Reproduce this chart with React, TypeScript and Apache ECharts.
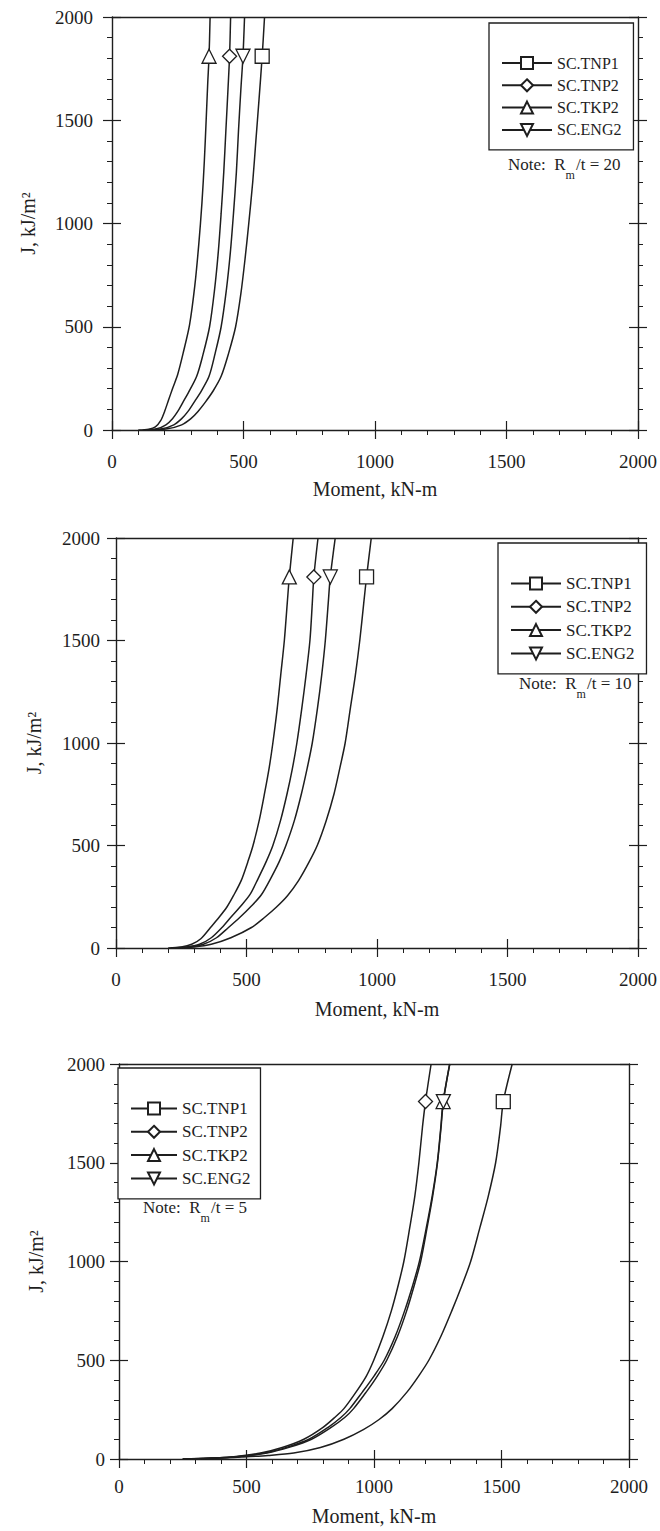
import React, { useEffect, useRef } from "react";
import * as echarts from "echarts";

const FONT = "'Liberation Serif', 'Times New Roman', serif";
const INK = "#1e1e1e";

const NAMES = ["SC.TNP1", "SC.TNP2", "SC.TKP2", "SC.ENG2"];
const SYMBOLS = ["rect", "diamond", "triangle", "triangle"];
const ROTATES = [0, 0, 0, 180];

const X_MIN = 0;
const X_MAX = 2000;
const X_STEP = 500;
const Y_MIN = 0;
const Y_MAX = 2000;
const Y_STEP = 500;
const MARKER_Y = 1810;

// Chart 1: Rm/t = 20   [moment kN-m, J kJ/m2]
const c1_TNP1 = [[140, 0], [210, 6], [265, 25], [300, 55], [327, 90], [355, 135], [385, 190], [415, 260], [443, 370], [470, 500], [490, 660], [506, 830], [520, 1000], [535, 1200], [547, 1400], [559, 1600], [571, 1810], [580, 2000]];
const c1_TNP2 = [[120, 0], [170, 6], [205, 25], [230, 55], [250, 90], [270, 135], [290, 180], [322, 260], [345, 360], [371, 500], [390, 680], [404, 860], [415, 1050], [425, 1250], [433, 1450], [441, 1650], [447, 1810], [451, 2000]];
const c1_TKP2 = [[100, 0], [140, 4], [165, 15], [185, 45], [200, 90], [215, 145], [230, 200], [250, 270], [272, 380], [295, 510], [315, 700], [330, 900], [342, 1100], [351, 1300], [358, 1500], [364, 1680], [369, 1810], [373, 2000]];
const c1_ENG2 = [[130, 0], [190, 6], [235, 25], [265, 55], [289, 90], [315, 140], [340, 190], [369, 260], [392, 370], [415, 500], [435, 680], [450, 860], [462, 1050], [473, 1250], [481, 1450], [490, 1650], [498, 1810], [504, 2000]];
const c1_markersX = [571, 447, 369, 498];

// Chart 2: Rm/t = 10
const c2_TNP1 = [[225, 0], [300, 5], [365, 18], [440, 50], [519, 100], [570, 150], [615, 200], [657, 255], [700, 330], [740, 420], [771, 500], [805, 620], [835, 750], [858, 880], [878, 1000], [898, 1170], [917, 1330], [934, 1500], [949, 1680], [960, 1810], [978, 2000]];
const c2_TNP2 = [[210, 0], [270, 5], [320, 18], [365, 50], [406, 100], [440, 150], [475, 200], [513, 260], [545, 340], [575, 420], [601, 500], [630, 620], [655, 750], [675, 870], [693, 1000], [712, 1170], [728, 1330], [743, 1500], [752, 1680], [758, 1810], [774, 2000]];
const c2_TKP2 = [[200, 0], [250, 5], [290, 18], [325, 45], [362, 100], [395, 150], [425, 200], [450, 255], [480, 330], [505, 420], [525, 500], [550, 630], [570, 760], [587, 880], [601, 1000], [617, 1160], [631, 1330], [645, 1500], [656, 1680], [664, 1810], [679, 2000]];
const c2_ENG2 = [[215, 0], [280, 5], [335, 18], [385, 50], [431, 100], [475, 150], [515, 200], [557, 260], [593, 340], [625, 420], [651, 500], [683, 620], [710, 750], [733, 880], [752, 1000], [772, 1170], [788, 1330], [802, 1500], [813, 1680], [821, 1810], [840, 2000]];
const c2_markersX = [960, 758, 664, 821];

// Chart 3: Rm/t = 5
const c3_TNP1 = [[260, 0], [380, 4], [480, 10], [585, 18], [685, 30], [790, 58], [882, 100], [960, 150], [1020, 200], [1071, 255], [1130, 340], [1175, 420], [1215, 500], [1262, 620], [1305, 750], [1345, 880], [1379, 1000], [1415, 1170], [1448, 1330], [1477, 1500], [1496, 1680], [1507, 1810], [1542, 2000]];
const c3_TNP2 = [[250, 0], [350, 4], [450, 12], [555, 30], [640, 58], [725, 100], [800, 160], [850, 215], [882, 255], [930, 340], [970, 420], [999, 500], [1035, 620], [1068, 750], [1095, 880], [1117, 1000], [1140, 1170], [1160, 1330], [1176, 1500], [1190, 1680], [1202, 1810], [1224, 2000]];
const c3_TKP2 = [[250, 0], [350, 4], [460, 12], [570, 30], [660, 60], [745, 100], [820, 160], [870, 210], [905, 255], [955, 340], [1000, 420], [1040, 500], [1083, 620], [1120, 750], [1152, 880], [1178, 1000], [1205, 1170], [1228, 1330], [1248, 1500], [1262, 1680], [1271, 1810], [1297, 2000]];
const c3_ENG2 = [[250, 0], [350, 4], [465, 12], [580, 30], [670, 60], [755, 100], [832, 160], [885, 210], [920, 255], [970, 340], [1013, 420], [1050, 500], [1092, 620], [1128, 750], [1158, 880], [1183, 1000], [1208, 1170], [1230, 1330], [1249, 1500], [1263, 1680], [1272, 1810], [1297, 2000]];
const c3_markersX = [1507, 1202, 1271, 1272];

const NOTES = ["20", "10", "5"];

const CHARTS = [
  {
    series: [c1_TNP1, c1_TNP2, c1_TKP2, c1_ENG2], markers: c1_markersX, note: NOTES[0],
    grid: { left: 112, top: 17, width: 528, height: 413 },
    labelMargin: 22, xNameGap: 49, yNameGap: 74, yLabelMargin: 19,
    legend: { left: 489, top: 23, fontSize: 16, itemWidth: 50, padRight: 12 },
    notePos: { x: 508, y: 156 }
  },
  {
    series: [c2_TNP1, c2_TNP2, c2_TKP2, c2_ENG2], markers: c2_markersX, note: NOTES[1],
    grid: { left: 116, top: 538, width: 529, height: 410 },
    labelMargin: 22, xNameGap: 51, yNameGap: 72, yLabelMargin: 16,
    legend: { left: 498, top: 543, fontSize: 17, itemWidth: 50, padRight: 12 },
    notePos: { x: 519, y: 675 }
  },
  {
    series: [c3_TNP1, c3_TNP2, c3_TKP2, c3_ENG2], markers: c3_markersX, note: NOTES[2],
    grid: { left: 119, top: 1064, width: 510, height: 395 },
    labelMargin: 18, xNameGap: 47, yNameGap: 73, yLabelMargin: 14,
    legend: { left: 118, top: 1068, fontSize: 17, itemWidth: 46, padRight: 10 },
    notePos: { x: 143, y: 1199 }
  }
];

const lineW = 1.4;
const fmt = (v: number) => String(v);

function buildOption() {
  const grid: any[] = [];
  const xAxis: any[] = [];
  const yAxis: any[] = [];
  const series: any[] = [];
  const legend: any[] = [];
  const graphic: any[] = [];

  CHARTS.forEach((c, gi) => {
    grid.push({ ...c.grid, containLabel: false });
    const baseX = { type: "value", gridIndex: gi, min: X_MIN, max: X_MAX, interval: X_STEP, splitLine: { show: false } };
    const baseY = { type: "value", gridIndex: gi, min: Y_MIN, max: Y_MAX, interval: Y_STEP, splitLine: { show: false } };
    xAxis.push({
      ...baseX, position: "bottom",
      axisLine: { show: true, onZero: false, lineStyle: { color: INK, width: lineW } },
      axisTick: { show: true, inside: false, length: 9, lineStyle: { color: INK, width: 1.2 } },
      minorTick: { show: true, splitNumber: 5, length: 5, lineStyle: { color: INK, width: 1 } },
      axisLabel: { show: true, margin: c.labelMargin, fontFamily: FONT, fontSize: 19, color: INK, formatter: fmt },
      name: "Moment, kN-m", nameLocation: "middle", nameGap: c.xNameGap,
      nameTextStyle: { fontFamily: FONT, fontSize: 20, color: INK }
    });
    xAxis.push({
      ...baseX, position: "bottom",
      axisLine: { show: false, onZero: false },
      axisTick: { show: true, inside: true, length: 9, lineStyle: { color: INK, width: 1.2 } },
      axisLabel: { show: false }
    });
    xAxis.push({
      ...baseX, position: "top",
      axisLine: { show: true, onZero: false, lineStyle: { color: INK, width: lineW } },
      axisTick: { show: false }, axisLabel: { show: false }
    });
    yAxis.push({
      ...baseY, position: "left",
      axisLine: { show: true, onZero: false, lineStyle: { color: INK, width: lineW } },
      axisTick: { show: true, inside: false, length: 9, lineStyle: { color: INK, width: 1.2 } },
      minorTick: { show: true, splitNumber: 5, length: 5, lineStyle: { color: INK, width: 1 } },
      axisLabel: { show: true, margin: c.yLabelMargin, fontFamily: FONT, fontSize: 19, color: INK, formatter: fmt },
      name: "J, kJ/m\u00B2", nameLocation: "middle", nameGap: c.yNameGap, nameRotate: 90,
      nameTextStyle: { fontFamily: FONT, fontSize: 20, color: INK }
    });
    yAxis.push({
      ...baseY, position: "left",
      axisLine: { show: false, onZero: false },
      axisTick: { show: true, inside: true, length: 9, lineStyle: { color: INK, width: 1.2 } },
      axisLabel: { show: false }
    });
    yAxis.push({
      ...baseY, position: "right",
      axisLine: { show: true, onZero: false, lineStyle: { color: INK, width: lineW } },
      axisTick: { show: true, inside: false, length: 9, lineStyle: { color: INK, width: 1.2 } },
      minorTick: { show: true, splitNumber: 5, length: 5, lineStyle: { color: INK, width: 1 } },
      axisLabel: { show: false }
    });
    yAxis.push({
      ...baseY, position: "right",
      axisLine: { show: false, onZero: false },
      axisTick: { show: true, inside: true, length: 9, lineStyle: { color: INK, width: 1.2 } },
      axisLabel: { show: false }
    });

    const xi = gi * 3;
    const yi = gi * 4;
    c.series.forEach((pts, si) => {
      series.push({
        type: "line", name: NAMES[si], xAxisIndex: xi, yAxisIndex: yi,
        data: pts, showSymbol: false, symbol: SYMBOLS[si], symbolRotate: ROTATES[si],
        smooth: 0.3,
        lineStyle: { color: INK, width: 1.5 },
        itemStyle: { color: "#fff", borderColor: INK, borderWidth: 1.2 },
        emphasis: { disabled: true }, silent: true, z: 2
      });
    });
    c.markers.forEach((mx, si) => {
      series.push({
        type: "scatter", name: NAMES[si] + " marker " + gi, xAxisIndex: xi, yAxisIndex: yi,
        data: [[mx, MARKER_Y]], symbol: SYMBOLS[si], symbolRotate: ROTATES[si], symbolSize: 14,
        itemStyle: { color: "#fff", borderColor: INK, borderWidth: 1.3, opacity: 1 },
        emphasis: { disabled: true }, silent: true, z: 3
      });
    });

    legend.push({
      orient: "vertical", left: c.legend.left, top: c.legend.top,
      itemWidth: c.legend.itemWidth, itemHeight: 15, itemGap: 6.3,
      padding: [32, c.legend.padRight, 12, 12],
      borderColor: INK, borderWidth: 1.3, backgroundColor: "#fff",
      data: NAMES, selectedMode: false,
      textStyle: { fontFamily: FONT, fontSize: c.legend.fontSize, color: INK },
      inactiveColor: INK
    });

    graphic.push({
      type: "text", x: c.notePos.x, y: c.notePos.y, z: 10,
      style: {
        text: "{n|Note:  R}{s|m}{n|/t = " + c.note + "}",
        fill: INK,
        rich: {
          n: { fontFamily: FONT, fontSize: 17, color: INK, verticalAlign: "top", lineHeight: 19 },
          s: { fontFamily: FONT, fontSize: 12, color: INK, verticalAlign: "top", lineHeight: 13, padding: [13, 1, 0, 0] }
        }
      }
    });
  });

  return { animation: false, backgroundColor: "#fff", grid, xAxis, yAxis, series, legend, graphic };
}

export default function App() {
  const ref = useRef<HTMLDivElement>(null);
  useEffect(() => {
    if (!ref.current) return;
    const chart = echarts.init(ref.current, undefined, { renderer: "svg" });
    chart.setOption(buildOption() as any);
    return () => chart.dispose();
  }, []);
  return (
    <div
      ref={ref}
      style={{ position: "absolute", left: 0, top: 0, width: 660, height: 1531, background: "#fff" }}
    />
  );
}
